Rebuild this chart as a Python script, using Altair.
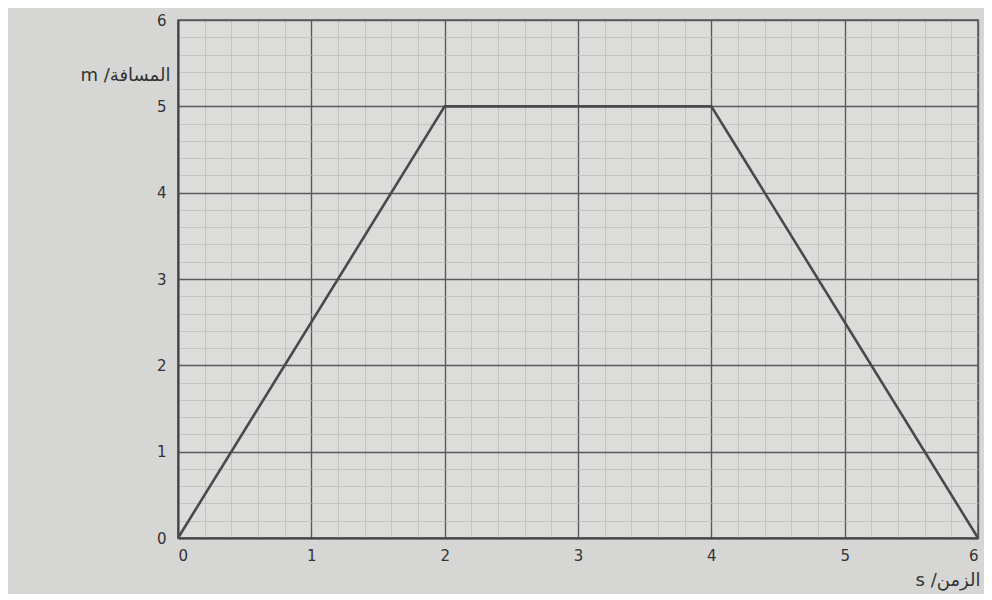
import altair as alt
import pandas as pd

time_s = [0, 2, 4, 6]
distance_m = [0, 5, 5, 0]
x_ticks = [0, 1, 2, 3, 4, 5, 6]
y_ticks = [0, 1, 2, 3, 4, 5, 6]
minor_x = [i / 5 for i in range(31) if i % 5 != 0]
minor_y = [i / 5 for i in range(31) if i % 5 != 0]

df = pd.DataFrame({"t": time_s, "d": distance_m})

font = "DejaVu Sans"
xs = alt.Scale(domain=[0, 6], nice=False)
ys = alt.Scale(domain=[0, 6], nice=False)

minor = alt.Chart(df).mark_line(opacity=0).encode(
    x=alt.X("t:Q", scale=xs, axis=alt.Axis(values=minor_x, orient="top", labels=False, ticks=False,
                                           domain=False, title=None, grid=True,
                                           gridColor="#b9b9b7", gridWidth=0.7)),
    y=alt.Y("d:Q", scale=ys, axis=alt.Axis(values=minor_y, orient="right", labels=False, ticks=False,
                                           domain=False, title=None, grid=True,
                                           gridColor="#b9b9b7", gridWidth=0.7)),
)

major = alt.Chart(df).mark_line(color="#4a4a4a", strokeWidth=2.6).encode(
    x=alt.X("t:Q", scale=xs, axis=alt.Axis(values=x_ticks, orient="bottom", grid=True, gridColor="#5a5a5a",
                                           gridWidth=1.4, ticks=False, domainColor="#444", domainWidth=2,
                                           labelFont=font, labelFontSize=15, labelColor="#333",
                                           labelPadding=10, format="d",
                                           title="s /الزمن", titleFont=font, titleFontSize=18,
                                           titleFontWeight="normal", titleColor="#333",
                                           titleAlign="right", titleX=802, titleY=42, titleBaseline="middle")),
    y=alt.Y("d:Q", scale=ys, axis=alt.Axis(values=y_ticks, orient="left", grid=True, gridColor="#5a5a5a",
                                           gridWidth=1.4, ticks=False, domainColor="#444", domainWidth=2,
                                           labelFont=font, labelFontSize=15, labelColor="#333",
                                           labelPadding=12, format="d",
                                           title="m /المسافة", titleFont=font, titleFontSize=18,
                                           titleFontWeight="normal", titleColor="#333", titleAngle=0,
                                           titleAlign="right", titleX=-8, titleY=55, titleBaseline="middle")),
)

chart = alt.layer(minor, major).resolve_axis(x="independent", y="independent").properties(
    width=800, height=518,
    padding={"left": 170, "top": 12, "right": 6, "bottom": 56},
    autosize=alt.AutoSizeParams(type="none"),
    background="#d6d6d4",
).configure_view(fill="#dcdcda", stroke="#555", strokeWidth=1.5)

chart.save("out.html", embed_options={"renderer": "svg", "actions": False})
